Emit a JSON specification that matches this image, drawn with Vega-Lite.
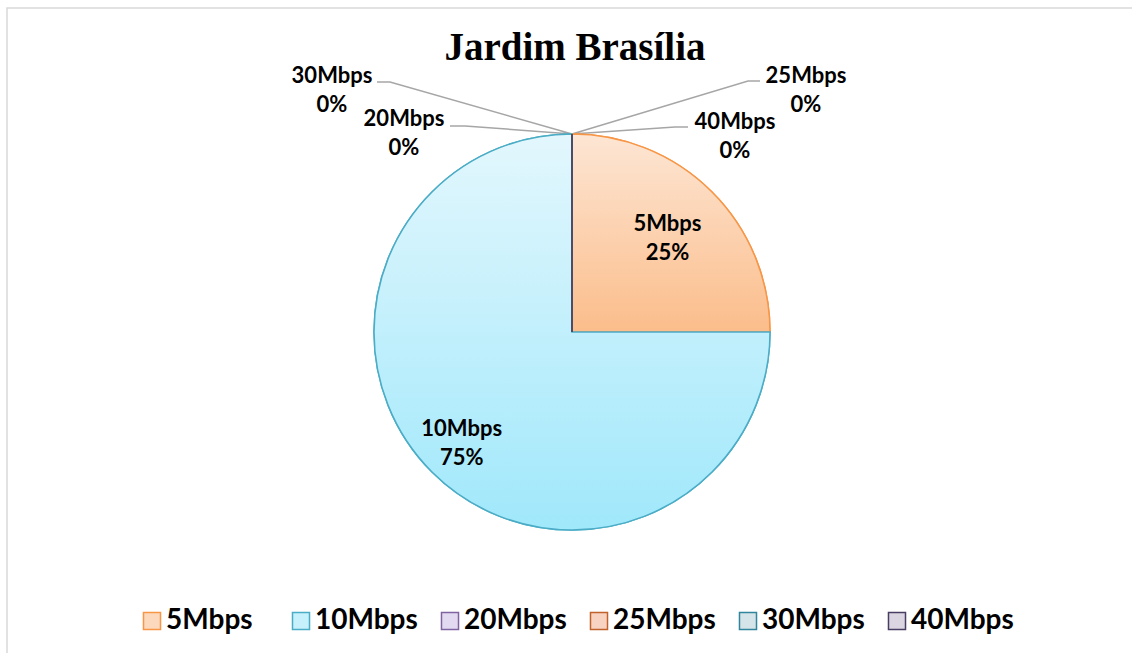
{
  "$schema": "https://vega.github.io/schema/vega-lite/v6.json",
  "width": 1130,
  "height": 648,
  "autosize": {"type": "none"},
  "padding": {"left": 7, "top": 8, "right": -5, "bottom": -3},
  "background": "white",
  "config": {
    "view": {"stroke": null},
    "font": "Lato",
    "legend": {
      "orient": "none",
      "legendX": 131,
      "legendY": 599,
      "direction": "horizontal",
      "gridAlign": "all",
      "columnPadding": 18,
      "padding": 0,
      "symbolType": "square",
      "symbolSize": 290,
      "symbolStrokeWidth": 1.5,
      "labelFont": "Lato",
      "labelFontSize": 28,
      "labelFontWeight": "bold",
      "labelColor": "#000000",
      "labelOffset": 0,
      "labelLimit": 0,
      "title": null
    }
  },
  "title": {
    "text": "Jardim Brasília",
    "font": "Liberation Serif",
    "fontSize": 39,
    "fontWeight": "bold",
    "color": "#000000",
    "anchor": "middle",
    "frame": "group",
    "baseline": "alphabetic",
    "offset": -92,
    "dx": 3
  },
  "data": {
    "values": [
      {"speed": "5Mbps", "share": 25},
      {"speed": "10Mbps", "share": 75},
      {"speed": "20Mbps", "share": 0},
      {"speed": "25Mbps", "share": 0},
      {"speed": "30Mbps", "share": 0},
      {"speed": "40Mbps", "share": 0}
    ]
  },
  "transform": [
    {"window": [{"op": "row_number", "as": "idx"}]},
    {"calculate": "datum.speed + '\\n' + datum.share + '%'", "as": "label"}
  ],
  "layer": [
    {
      "transform": [{"filter": "datum.speed === '5Mbps'"}],
      "mark": {"type": "rect", "fill": null, "stroke": "#d9d9d9", "strokeWidth": 1.5},
      "encoding": {}
    },
    {
      "transform": [{"filter": "datum.speed === '5Mbps'"}],
      "mark": {
        "type": "point",
        "shape": "M0,-198L-182,-250L-195,-250M0,-198L-107,-206L-122,-206M0,-198L176,-251L188,-251M0,-198L103,-205L116,-205",
        "size": 4,
        "filled": false,
        "stroke": "#a6a6a6",
        "strokeWidth": 1.5,
        "opacity": 1
      },
      "encoding": {}
    },
    {
      "mark": {"type": "arc", "outerRadius": 198, "strokeWidth": 1.5},
      "encoding": {
        "theta": {"field": "share", "type": "quantitative", "stack": true},
        "order": {"field": "idx", "type": "quantitative"},
        "fill": {
          "field": "speed",
          "type": "nominal",
          "sort": null,
          "scale": {
            "domain": ["5Mbps", "10Mbps", "20Mbps", "25Mbps", "30Mbps", "40Mbps"],
            "range": ["#fcd8bc", "#c6f0fc", "#e2daf0", "#f9d3c2", "#d5e4e9", "#dbd5e2"]
          }
        },
        "stroke": {
          "field": "speed",
          "type": "nominal",
          "sort": null,
          "scale": {
            "domain": ["5Mbps", "10Mbps", "20Mbps", "25Mbps", "30Mbps", "40Mbps"],
            "range": ["#f79646", "#4bacc6", "#8064a2", "#c0622a", "#31859c", "#4a3d62"]
          }
        }
      }
    },
    {
      "mark": {"type": "arc", "outerRadius": 198, "strokeWidth": 1.5},
      "encoding": {
        "theta": {"field": "share", "type": "quantitative", "stack": true},
        "order": {"field": "idx", "type": "quantitative"},
        "fill": {
          "condition": {
            "test": "datum.speed === '5Mbps'",
            "value": {"gradient": "linear", "x1": 0, "y1": 0, "x2": 0, "y2": 1,
              "stops": [{"offset": 0, "color": "#fde6d4"}, {"offset": 1, "color": "#fbbd8b"}]}
          },
          "value": {"gradient": "linear", "x1": 0, "y1": 0, "x2": 0, "y2": 1,
            "stops": [{"offset": 0, "color": "#e3f7fd"}, {"offset": 1, "color": "#a0e8fb"}]}
        },
        "stroke": {
          "field": "speed",
          "type": "nominal",
          "sort": null,
          "scale": {
            "domain": ["5Mbps", "10Mbps", "20Mbps", "25Mbps", "30Mbps", "40Mbps"],
            "range": ["#f79646", "#4bacc6", "#8064a2", "#c0622a", "#31859c", "#4a3d62"]
          }
        }
      }
    },
    {
      "mark": {"type": "text", "font": "Lato", "fontSize": 22, "fontWeight": "bold", "color": "#000000", "lineBreak": "\n", "lineHeight": 29, "baseline": "middle", "align": "center", "dy": -13},
      "encoding": {
        "theta": {"field": "share", "type": "quantitative", "stack": true},
        "order": {"field": "idx", "type": "quantitative"},
        "radius": {"field": "share", "type": "quantitative", "scale": {"type": "linear", "domain": [25, 75], "range": [135, 156], "zero": false}},
        "text": {"condition": {"test": "datum.share > 0", "field": "label", "type": "nominal"}, "value": ""}
      }
    },
    {
      "transform": [{"filter": "datum.speed === '30Mbps'"}],
      "mark": {"type": "text", "font": "Lato", "fontSize": 22, "fontWeight": "bold", "color": "#000000", "lineBreak": "\n", "lineHeight": 29, "baseline": "middle", "align": "center", "dx": -240, "dy": -256},
      "encoding": {"text": {"field": "label", "type": "nominal"}}
    },
    {
      "transform": [{"filter": "datum.speed === '20Mbps'"}],
      "mark": {"type": "text", "font": "Lato", "fontSize": 22, "fontWeight": "bold", "color": "#000000", "lineBreak": "\n", "lineHeight": 29, "baseline": "middle", "align": "center", "dx": -168, "dy": -213},
      "encoding": {"text": {"field": "label", "type": "nominal"}}
    },
    {
      "transform": [{"filter": "datum.speed === '25Mbps'"}],
      "mark": {"type": "text", "font": "Lato", "fontSize": 22, "fontWeight": "bold", "color": "#000000", "lineBreak": "\n", "lineHeight": 29, "baseline": "middle", "align": "center", "dx": 234, "dy": -256},
      "encoding": {"text": {"field": "label", "type": "nominal"}}
    },
    {
      "transform": [{"filter": "datum.speed === '40Mbps'"}],
      "mark": {"type": "text", "font": "Lato", "fontSize": 22, "fontWeight": "bold", "color": "#000000", "lineBreak": "\n", "lineHeight": 29, "baseline": "middle", "align": "center", "dx": 163, "dy": -210},
      "encoding": {"text": {"field": "label", "type": "nominal"}}
    }
  ]
}
